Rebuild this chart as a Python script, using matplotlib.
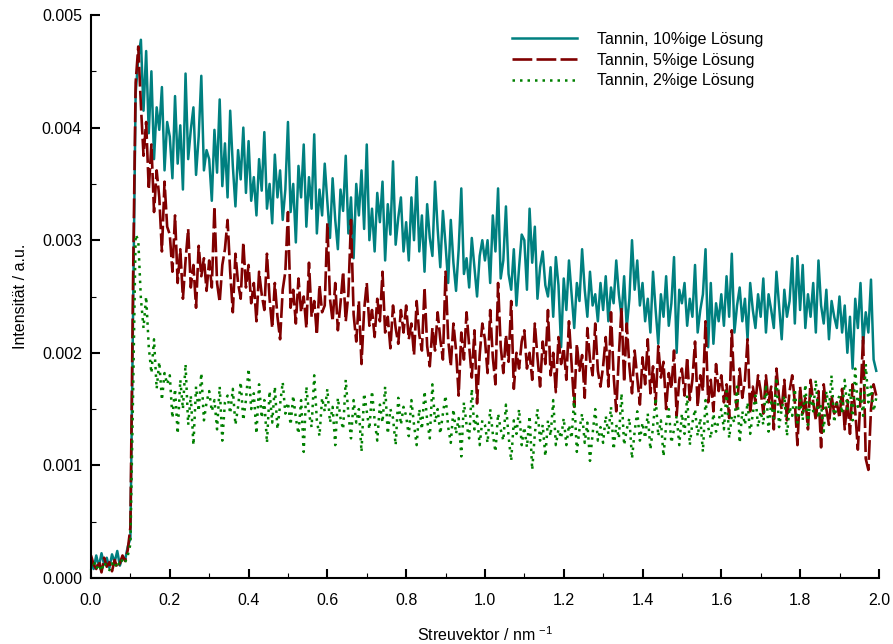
import numpy as np
import matplotlib
matplotlib.use("Agg")
import matplotlib.pyplot as plt
from matplotlib.ticker import MultipleLocator, FormatStrFormatter

plt.rcParams["font.family"] = ["Liberation Sans", "DejaVu Sans"]
plt.rcParams["mathtext.default"] = "regular"

# scattering vector grid (nm^-1), 300 channels
q = np.linspace(0.0, 1.993, 300)

# intensities in units of 1e-5 a.u.
tannin_10 = [
    15, 8, 20, 10, 22, 12, 18, 9, 21, 14, 24, 11, 19, 16, 28,
    35, 230, 430, 462, 478, 415, 468, 395, 450, 372, 418, 398, 436, 362, 405,
    392, 355, 428, 368, 402, 345, 448, 372, 398, 418, 358, 392, 446, 362, 380,
    372, 335, 398, 360, 425, 348, 386, 338, 415, 366, 330, 380, 354, 400, 342,
    388, 335, 356, 322, 372, 344, 396, 328, 350, 315, 376, 338, 362, 318, 345,
    405, 325, 350, 298, 366, 338, 385, 312, 356, 328, 394, 306, 345, 322, 368,
    334, 302, 355, 318, 292, 345, 326, 375, 306, 338, 284, 350, 322, 362, 310,
    385, 300, 328, 290, 342, 316, 352, 282, 332, 305, 370, 296, 320, 338, 290,
    316, 282, 338, 300, 356, 290, 322, 272, 332, 302, 286, 352, 310, 276, 326,
    296, 262, 318, 280, 255, 292, 346, 270, 284, 258, 302, 276, 250, 286, 300,
    282, 300, 262, 322, 290, 346, 266, 282, 330, 270, 256, 292, 242, 276, 305,
    300, 256, 328, 280, 312, 248, 276, 290, 260, 250, 276, 232, 285, 260, 205,
    266, 238, 282, 252, 222, 262, 246, 292, 256, 232, 272, 242, 252, 228, 262,
    238, 268, 228, 258, 244, 282, 252, 232, 268, 222, 248, 300, 256, 282, 242,
    262, 228, 248, 218, 272, 238, 208, 252, 232, 268, 224, 244, 285, 200, 256,
    244, 262, 224, 248, 232, 278, 218, 238, 252, 292, 205, 262, 208, 244, 228,
    252, 224, 268, 232, 288, 218, 242, 258, 228, 248, 212, 262, 238, 222, 252,
    232, 266, 218, 252, 238, 222, 272, 242, 212, 256, 232, 246, 284, 226, 286,
    238, 278, 222, 252, 232, 262, 218, 282, 242, 226, 256, 212, 246, 232, 222,
    250, 218, 242, 200, 232, 186, 248, 222, 262, 208, 236, 218, 265, 194, 184,
]

tannin_5 = [
    20, 12, 8, 15, 5, 18, 10, 14, 6, 16, 9, 13, 20, 15, 25,
    45, 260, 440, 472, 420, 375, 405, 345, 385, 325, 362, 338, 290, 352, 312,
    305, 272, 322, 262, 292, 248, 282, 310, 258, 278, 240, 295, 268, 284, 255,
    282, 258, 330, 262, 245, 278, 292, 318, 272, 236, 288, 262, 248, 298, 258,
    278, 244, 262, 228, 272, 252, 238, 288, 248, 222, 262, 232, 212, 256, 272,
    325, 240, 256, 226, 266, 236, 250, 222, 280, 232, 246, 216, 260, 236, 242,
    315, 248, 228, 262, 220, 244, 272, 228, 252, 318, 234, 210, 246, 190, 238,
    262, 224, 238, 214, 248, 228, 272, 218, 232, 204, 242, 222, 208, 238, 218,
    242, 212, 226, 198, 246, 216, 202, 258, 206, 188, 222, 202, 236, 212, 194,
    272, 212, 188, 226, 202, 162, 218, 194, 236, 206, 178, 220, 155, 198, 226,
    212, 182, 238, 196, 172, 262, 206, 182, 216, 192, 246, 168, 200, 186, 210,
    220, 186, 200, 176, 226, 196, 170, 210, 190, 238, 180, 200, 165, 214, 190,
    204, 176, 228, 190, 152, 208, 184, 198, 160, 222, 194, 180, 226, 184, 170,
    188, 214, 170, 236, 180, 148, 198, 240, 174, 226, 188, 164, 202, 178, 154,
    196, 172, 212, 164, 188, 154, 206, 178, 192, 150, 182, 168, 202, 144, 176,
    186, 162, 196, 158, 176, 210, 152, 180, 166, 228, 156, 176, 148, 190, 166,
    180, 156, 172, 142, 220, 166, 150, 186, 160, 176, 212, 146, 170, 156, 180,
    166, 146, 180, 156, 170, 132, 186, 160, 150, 176, 140, 166, 180, 156, 118,
    170, 146, 160, 132, 176, 156, 140, 166, 116, 172, 150, 136, 162, 146, 156,
    142, 168, 132, 158, 128, 172, 148, 114, 160, 215, 106, 96, 150, 172, 162,
]

tannin_2 = [
    10, 15, 8, 12, 6, 14, 10, 7, 13, 9, 15, 11, 17, 14, 20,
    30, 160, 305, 300, 248, 222, 250, 205, 182, 212, 168, 192, 158, 182, 172,
    180, 142, 168, 128, 176, 150, 190, 136, 162, 118, 170, 148, 182, 140, 156,
    166, 148, 158, 132, 170, 122, 156, 162, 146, 168, 136, 152, 174, 140, 158,
    186, 150, 164, 128, 172, 142, 158, 120, 166, 138, 170, 132, 154, 174, 146,
    156, 136, 162, 142, 128, 158, 112, 170, 146, 134, 180, 140, 126, 160, 148,
    168, 138, 152, 118, 160, 142, 132, 176, 146, 124, 158, 138, 150, 112, 164,
    148, 132, 166, 140, 122, 154, 138, 170, 128, 150, 142, 118, 160, 136, 152,
    144, 126, 158, 136, 118, 150, 132, 166, 140, 124, 172, 138, 150, 128, 146,
    162, 134, 120, 150, 128, 142, 108, 156, 136, 124, 168, 132, 144, 118, 140,
    136, 120, 150, 128, 112, 146, 132, 122, 154, 126, 104, 140, 128, 150, 118,
    134, 116, 144, 96, 128, 150, 122, 136, 108, 140, 126, 158, 118, 132, 124,
    142, 118, 136, 124, 160, 112, 132, 146, 120, 138, 104, 128, 150, 122, 134,
    120, 144, 128, 152, 114, 136, 124, 164, 118, 132, 142, 106, 130, 148, 122,
    138, 124, 146, 114, 134, 160, 126, 140, 108, 136, 150, 120, 132, 144, 118,
    146, 128, 162, 118, 138, 150, 126, 142, 112, 158, 134, 124, 146, 130, 140,
    150, 132, 166, 124, 144, 138, 170, 120, 148, 136, 156, 128, 146, 162, 134,
    148, 136, 172, 130, 156, 142, 178, 134, 150, 162, 126, 152, 144, 168, 138,
    158, 140, 172, 136, 162, 148, 176, 142, 154, 130, 166, 150, 180, 138, 156,
    162, 146, 176, 150, 168, 140, 186, 152, 164, 144, 190, 156, 170, 148, 160,
]

labels = ["Tannin, 10%ige Lösung", "Tannin, 5%ige Lösung", "Tannin, 2%ige Lösung"]
colors = ["#008080", "#800000", "#008000"]

fig = plt.figure(figsize=(8.93, 6.44), dpi=100)
ax = fig.add_axes([91 / 893, 66 / 644, 788 / 893, 563 / 644])

scale = 1e-5
ax.plot(q, np.array(tannin_10) * scale, color=colors[0], lw=1.8,
        label=labels[0])
ax.plot(q, np.array(tannin_5) * scale, color=colors[1], lw=1.9,
        linestyle=(0, (7.5, 1.6)), label=labels[1])
ax.plot(q, np.array(tannin_2) * scale, color=colors[2], lw=1.8,
        linestyle=(0, (1, 2.0)), label=labels[2])

ax.set_xlim(0.0, 2.0)
ax.set_ylim(0.0, 0.005)

ax.xaxis.set_major_locator(MultipleLocator(0.2))
ax.xaxis.set_minor_locator(MultipleLocator(0.1))
ax.yaxis.set_major_locator(MultipleLocator(0.001))
ax.yaxis.set_minor_locator(MultipleLocator(0.0005))
ax.xaxis.set_major_formatter(FormatStrFormatter("%.1f"))
ax.yaxis.set_major_formatter(FormatStrFormatter("%.3f"))

for side in ("top", "right"):
    ax.spines[side].set_visible(False)
for side in ("left", "bottom"):
    ax.spines[side].set_linewidth(1.5)

ax.tick_params(which="major", direction="in", length=6.5, width=1.5,
               labelsize=11.5, colors="black")
ax.tick_params(which="minor", direction="in", length=3.5, width=0.8)
ax.tick_params(axis="x", which="major", pad=11)
ax.tick_params(axis="y", which="major", pad=6.5)

ax.set_xlabel("Streuvektor / nm $^{-1}$", fontsize=11.5, labelpad=12)
ax.set_ylabel("Intensität / a.u.", fontsize=11.5, labelpad=10)

ax.legend(loc="upper left", bbox_to_anchor=(512 / 893, (644 - 32) / 644),
          bbox_transform=fig.transFigure, frameon=False, fontsize=11.5,
          handlelength=4.05, handletextpad=1.3, labelspacing=0.35,
          borderpad=0, borderaxespad=0)

fig.savefig("out.png", dpi=100)
